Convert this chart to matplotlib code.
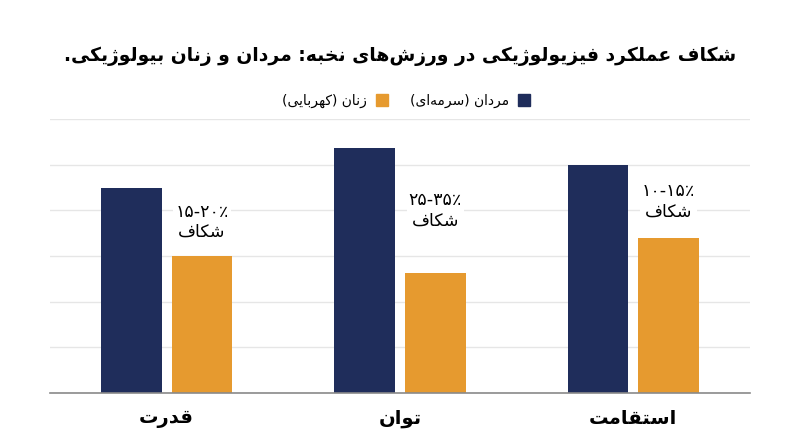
import re
import matplotlib
matplotlib.use('Agg')
import matplotlib.pyplot as plt
import matplotlib.patches as mpatches
import numpy as np

# chart data (logical Persian order)
title = 'شکاف عملکرد فیزیولوژیکی در ورزش‌های نخبه: مردان و زنان بیولوژیکی.'
categories = ['استقامت', 'توان', 'قدرت']
men_label = 'مردان (سرمه‌ای)'
women_label = 'زنان (کهربایی)'
men = [100, 107.5, 90]
women = [68, 52.5, 60]
gap_labels = ['۱۰-۱۵٪\nشکاف', '۲۵-۳۵٪\nشکاف', '۱۵-۲۰٪\nشکاف']

NAVY = '#1f2d5b'
AMBER = '#e69a2f'

#
# matplotlib has no arabic shaping / bidi, so do a small one by hand
#
FORMS = {
    'ا': ('\uFE8D', '\uFE8E', None, None),
    'ب': ('\uFE8F', '\uFE90', '\uFE91', '\uFE92'),
    'ت': ('\uFE95', '\uFE96', '\uFE97', '\uFE98'),
    'خ': ('\uFEA5', '\uFEA6', '\uFEA7', '\uFEA8'),
    'د': ('\uFEA9', '\uFEAA', None, None),
    'ر': ('\uFEAD', '\uFEAE', None, None),
    'ز': ('\uFEAF', '\uFEB0', None, None),
    '\u0698': ('\uFB8A', '\uFB8B', None, None),
    'س': ('\uFEB1', '\uFEB2', '\uFEB3', '\uFEB4'),
    'ش': ('\uFEB5', '\uFEB6', '\uFEB7', '\uFEB8'),
    'ع': ('\uFEC9', '\uFECA', '\uFECB', '\uFECC'),
    'ف': ('\uFED1', '\uFED2', '\uFED3', '\uFED4'),
    'ق': ('\uFED5', '\uFED6', '\uFED7', '\uFED8'),
    '\u06A9': ('\uFB8E', '\uFB8F', '\uFB90', '\uFB91'),
    'ل': ('\uFEDD', '\uFEDE', '\uFEDF', '\uFEE0'),
    'م': ('\uFEE1', '\uFEE2', '\uFEE3', '\uFEE4'),
    'ن': ('\uFEE5', '\uFEE6', '\uFEE7', '\uFEE8'),
    'ه': ('\uFEE9', '\uFEEA', '\uFEEB', '\uFEEC'),
    'و': ('\uFEED', '\uFEEE', None, None),
    '\u06CC': ('\uFBFC', '\uFBFD', '\uFBFE', '\uFBFF'),
}
MIRROR = {'(': ')', ')': '('}
DIGITS = '0123456789۰۱۲۳۴۵۶۷۸۹'


def shape(s):
    s = s.replace('\u064A', '\u06CC').replace('\u0643', '\u06A9')
    out = []
    for i, c in enumerate(s):
        if c not in FORMS:
            out.append(c)
            continue
        prev = s[i-1] if i > 0 else ''
        nxt = s[i+1] if i+1 < len(s) else ''
        jp = prev in FORMS and FORMS[prev][2] is not None
        jn = FORMS[c][2] is not None and nxt in FORMS
        iso, fin, ini, med = FORMS[c]
        if jp and jn:
            out.append(med)
        elif jp:
            out.append(fin)
        elif jn:
            out.append(ini)
        else:
            out.append(iso)
    return ''.join(out)


def visual(text):
    lines = []
    for line in text.split('\n'):
        parts = re.split(r'([0-9۰-۹][0-9۰-۹\-٪%]*)', shape(line))
        res = []
        for p in parts[::-1]:
            if p and p[0] in DIGITS:
                res.append(p)
            else:
                res.append(''.join(MIRROR.get(c, c) for c in reversed(p)))
        lines.append(''.join(res).replace('\u200c', ''))
    return '\n'.join(lines)


plt.rcParams['font.family'] = ['DejaVu Sans']

fig = plt.figure(figsize=(8, 4.47), dpi=100)
ax = fig.add_axes([0.0625, 0.1215, 0.875, 0.6115])

x = np.arange(len(categories))
w = 0.26
off = 0.151
ax.bar(x + off, men, w, color=NAVY, zorder=2)
ax.bar(x - off, women, w, color=AMBER, zorder=2)

for i in range(len(categories)):
    ax.text(x[i] - off, (men[i] + women[i]) / 2, visual(gap_labels[i]),
            ha='center', va='center', fontsize=12.5, linespacing=1.15, zorder=3,
            bbox=dict(facecolor='white', edgecolor='none', pad=1.5))

ax.set_xlim(-0.5, 2.5)
ax.invert_xaxis()
ax.set_ylim(0, 120)
ax.set_yticks(np.arange(0, 121, 20))
ax.yaxis.grid(True, color='#e6e6e6', linewidth=1)
ax.set_axisbelow(True)
for s in ['top', 'left', 'right']:
    ax.spines[s].set_visible(False)
ax.spines['bottom'].set_color('#8a8a8a')
ax.spines['bottom'].set_linewidth(1.2)
ax.spines['bottom'].set_zorder(4)
ax.tick_params(left=False, labelleft=False, bottom=False, pad=8)
ax.set_xticks(x)
ax.set_xticklabels([visual(c) for c in categories], fontsize=14, fontweight='bold')

fig.text(0.5, 1 - 56/447, visual(title), ha='center', va='center',
         fontsize=13.5, fontweight='bold')

handles = [mpatches.Patch(color=AMBER, label=visual(women_label)),
           mpatches.Patch(color=NAVY, label=visual(men_label))]
fig.legend(handles=handles, ncol=2, markerfirst=False, frameon=False,
           loc='center', bbox_to_anchor=(0.508, 1 - 101/447), fontsize=10,
           handlelength=0.9, handleheight=0.9, columnspacing=1.6, handletextpad=0.6)

fig.savefig('out.png', dpi=100)
